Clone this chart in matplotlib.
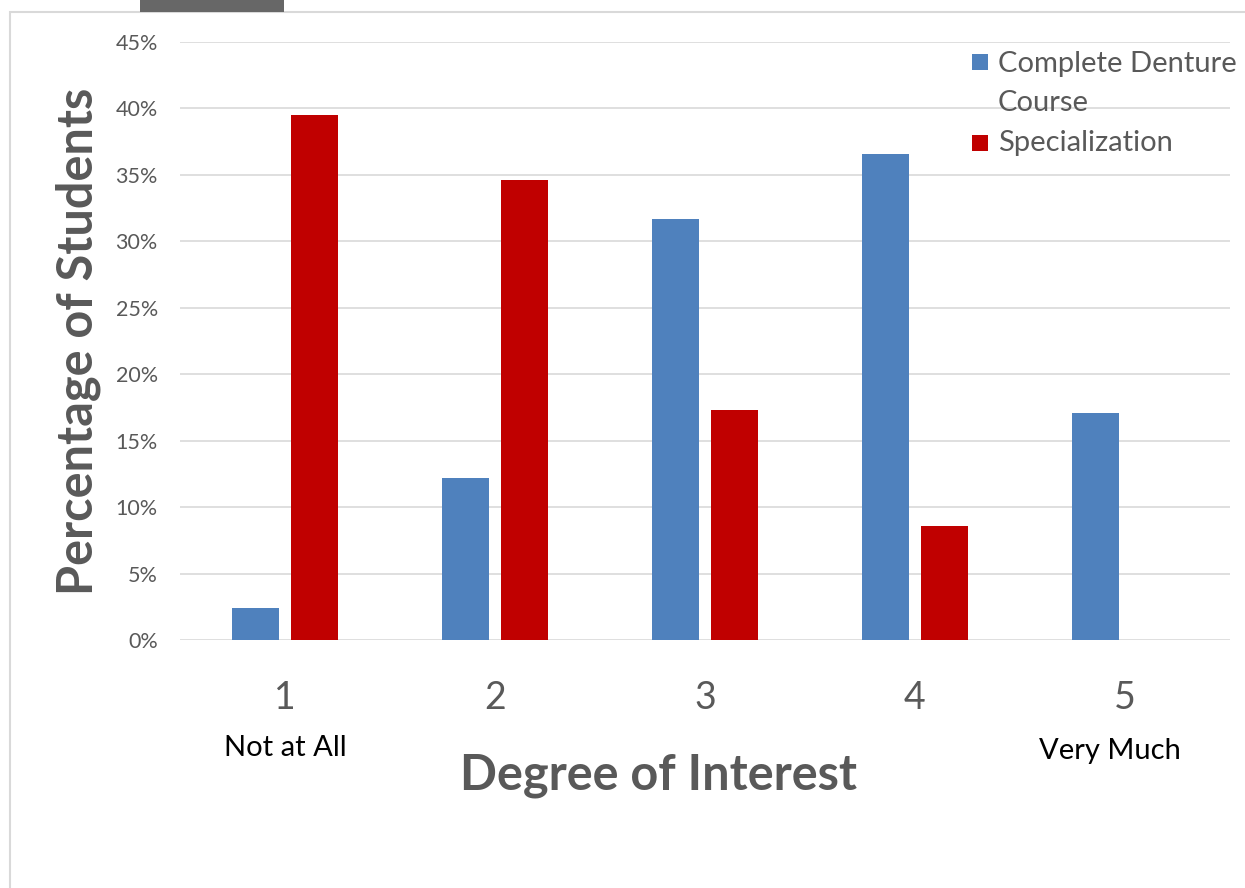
import numpy as np
import matplotlib.pyplot as plt
from matplotlib.patches import Rectangle

plt.rcParams['font.family'] = ['Lato', 'DejaVu Sans']

degrees = [1, 2, 3, 4, 5]
course = [2.4, 12.2, 31.7, 36.6, 17.1]
special = [39.5, 34.6, 17.3, 8.6, 0.0]
series_names = ['Complete Denture\nCourse', 'Specialization']
colors = ['#4F81BD', '#C00000']
yticks = [0, 5, 10, 15, 20, 25, 30, 35, 40, 45]

W, H = 1245, 888
fig = plt.figure(figsize=(W / 100, H / 100), dpi=100)

# outer chart frame + grey tab at top
fig.patches.append(Rectangle((10 / W, -0.1), 1.2, (H - 12) / H + 0.1, transform=fig.transFigure,
                             fill=False, edgecolor='#d9d9d9', linewidth=1.5))
fig.patches.append(Rectangle((140 / W, (H - 12) / H), 144 / W, 0.1, transform=fig.transFigure,
                             facecolor='#676767', edgecolor='none'))

ax = fig.add_axes([180 / W, (H - 640) / H, (1230 - 180) / W, (640 - 42) / H])
x = np.array(degrees)
w = 0.224
ax.bar(x - 0.14, course, w, color=colors[0], zorder=3)
ax.bar(x + 0.14, special, w, color=colors[1], zorder=3)

ax.set_xlim(0.5, 5.5)
ax.set_ylim(0, 45)
ax.set_yticks(yticks)
ax.set_yticklabels([f'{v}%' for v in yticks])
ax.set_xticks(degrees)
ax.set_xticklabels([str(d) for d in degrees])
ax.grid(axis='y', color='#d9d9d9', linewidth=1.2, zorder=0)
for s in ax.spines.values():
    s.set_visible(False)
ax.tick_params(axis='y', length=0, pad=16, labelsize=15.5, labelcolor='#595959')
ax.tick_params(axis='x', length=0, pad=29, labelsize=27, labelcolor='#595959')

ax.text(1, -0.18, 'Not at All', transform=ax.get_xaxis_transform(), ha='center', va='center',
        fontsize=21, color='black')
ax.text(4.93, -0.185, 'Very Much', transform=ax.get_xaxis_transform(), ha='center', va='center',
        fontsize=21, color='black')

fig.text(658 / W, 1 - 775 / H, 'Degree of Interest', ha='center', va='center',
         fontsize=35, fontweight='bold', color='#595959')
fig.text(78 / W, 1 - 341 / H, 'Percentage of Students', ha='center', va='center', rotation=90,
         fontsize=35, fontweight='bold', color='#595959')

# legend drawn by hand (square aligned with first text line)
leg_y = [62, 143]
for name, c, yy in zip(series_names, colors, leg_y):
    fig.patches.append(Rectangle((972 / W, 1 - (yy + 8) / H), 16 / W, 16 / H,
                                 transform=fig.transFigure, facecolor=c, edgecolor='none'))
    if '\n' in name:
        fig.text(998 / W, 1 - (yy - 11) / H, name, ha='left', va='top',
                 fontsize=21, color='#595959', linespacing=1.62)
    else:
        fig.text(998 / W, 1 - yy / H, name, ha='left', va='center',
                 fontsize=21, color='#595959')

fig.savefig('out.png', dpi=100)
